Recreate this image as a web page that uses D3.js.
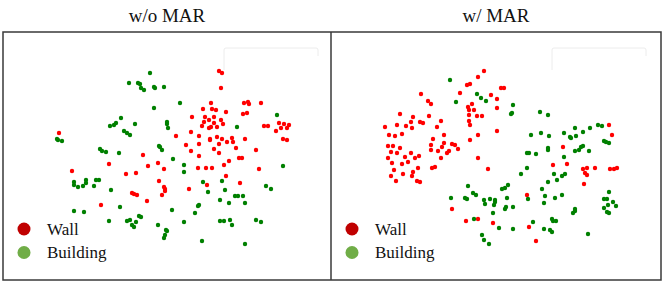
<!DOCTYPE html>
<html>
<head>
<meta charset="utf-8">
<script src="https://cdn.jsdelivr.net/npm/d3@7"></script>
<style>
  body { margin: 0; background: #fff; }
  svg { display: block; }
</style>
</head>
<body>
<div id="chart"></div>
<script>
// t-SNE embedding of Wall vs Building features, with and without MAR

var titles = ["w/o MAR", "w/ MAR"];
var classNames = ["Wall", "Building"];
var pointColors = ["#ff0000", "#008000"];
var legendColors = ["#c00000", "#70ad47"];

// embedding coordinates (arbitrary units), one list per panel and class
var noMarWall = [[56,101],[140,123],[106,132],[155,131],[145,134],[161,137],[69,139],
  [216,39],[219,41],[218,56],[208,71],[200,77],[209,77],[213,78],[223,80],[241,71],[245,70],[246,72],[258,71],
  [240,82],[244,81],[189,85],[202,85],[211,85],[206,88],[218,88],[201,90],[211,91],[220,92],[199,94],[208,95],
  [206,96],[214,95],[276,91],[281,92],[286,93],[261,94],[265,94],[278,96],[284,96],[273,99],[188,100],[173,104],
  [196,104],[214,105],[207,107],[207,108],[219,107],[229,106],[242,107],[224,110],[230,110],[280,107],[284,108],
  [183,113],[196,112],[216,112],[233,116],[211,117],[188,119],[216,121],[253,118],[196,124],[236,126],[239,126],
  [226,129],[221,133],[195,136],[203,136],[209,136],[256,137],
  [123,142],[133,141],[156,149],[161,155],[162,157],[162,159],[129,161],[131,162],[134,163],[159,163],[144,169],[98,173],
  [223,144],[204,153],[237,151],[186,157]];

var noMarBuilding = [[147,41],[126,51],[135,51],[137,52],[138,56],[141,58],[151,55],[152,56],[161,55],[151,76],
  [118,86],[113,91],[111,93],[107,94],[132,92],[164,90],[164,92],[165,96],[121,99],[124,101],[127,103],[54,107],
  [55,108],[59,109],[97,117],[99,119],[103,120],[116,121],[156,114],[157,115],[159,118],
  [177,71],[274,83],[234,95],[170,127],[181,133],[280,134],
  [71,150],[71,153],[75,155],[80,154],[83,148],[83,151],[93,148],[96,148],[91,154],[108,158],[71,179],[81,180],
  [117,175],[106,189],[124,189],[127,188],[133,190],[136,184],[138,185],[129,193],[131,195],[155,193],[163,198],
  [164,199],[162,203],[161,206],
  [181,140],[200,150],[219,149],[205,160],[222,158],[217,168],[232,164],[235,164],[240,164],[226,171],[242,171],
  [263,154],[268,157],[196,173],[195,174],[169,178],[192,181],[181,190],[217,189],[221,189],[227,188],[229,193],
  [253,188],[258,190],[199,209],[242,212]];

var marWall = [[153,39],[147,45],[136,53],[139,52],[129,61],[160,63],[166,67],[90,62],[97,69],[100,72],[141,72],
  [137,75],[138,78],[143,78],[166,76],[69,82],[82,85],[98,84],[138,83],[146,84],[151,84],[80,90],[89,90],[92,91],
  [110,89],[138,89],[54,95],[66,93],[75,94],[81,96],[106,95],[139,93],[166,99],[58,103],[64,104],[71,102],[113,103],
  [147,103],[102,107],[139,108],[113,111],[57,114],[62,114],[69,116],[100,113],[121,112],[124,113],[111,115],[127,117],
  [60,120],[66,121],[80,121],[100,118],[107,119],[118,119],[116,121],[88,124],[84,126],[74,125],[57,126],[110,126],
  [147,126],[61,131],[71,132],[77,130],[101,136],[104,135],[87,136],[157,137],
  [170,56],[173,56],[278,93],[281,103],[232,115],[236,132],[222,133],[256,136],[252,137],[264,136],[279,137],[283,137],[286,136],
  [63,138],[60,144],[72,142],[82,140],[81,144],[65,149],[86,149],[89,150],[121,177],[135,189],[147,187],[162,191],
  [254,141],[256,143],[253,152],[196,163],[198,195],[205,209]];

var marBuilding = [[119,48],[146,62],[150,66],[155,69],[125,70],
  [182,73],[181,81],[180,82],[209,80],[217,83],[200,103],[210,101],[218,104],[233,101],[239,105],[240,106],[244,96],
  [245,104],[252,100],[259,96],[267,93],[271,94],[273,109],[275,110],[278,111],[217,116],[217,118],[196,121],[198,121],
  [205,122],[233,125],[258,119],[244,119],[248,118],[250,115],[252,114],[196,136],
  [137,154],[142,161],[145,163],[120,166],[134,166],[136,167],[153,168],[154,172],[159,167],[164,168],[164,170],
  [163,173],[162,181],[143,187],[168,196],[151,203],[153,208],[158,212],
  [190,142],[223,142],[231,144],[234,142],[226,148],[217,150],[177,153],[174,156],[171,157],[211,157],[214,164],
  [197,167],[176,166],[224,166],[231,163],[213,171],[175,175],[174,177],[182,175],[278,160],[273,167],[276,167],
  [282,170],[277,173],[285,174],[273,176],[276,180],[278,181],[244,177],[244,179],[242,181],[202,190],[221,187],
  [222,189],[225,189],[182,197],[213,197],[219,198],[221,200],[257,202]];

var panels = [[noMarWall, noMarBuilding], [marWall, marBuilding]];

var W = 664, H = 282;
var frameTop = 32, frameBottom = 280, frameLeft = 3, frameMid = 331, frameRight = 661;

var svg = d3.select("#chart").append("svg")
    .attr("width", W)
    .attr("height", H);

var lefts = [frameLeft, frameMid];
var widths = [frameMid - frameLeft, frameRight - frameMid];

panels.forEach(function(sets, p){
    var x = d3.scaleLinear().domain([0, 328]).range([lefts[p], lefts[p] + 328]);
    var y = d3.scaleLinear().domain([0, 248]).range([frameTop, frameTop + 248]);

    var g = svg.append("g");

    // title
    svg.append("text")
        .attr("x", lefts[p] + widths[p] / 2)
        .attr("y", 22)
        .attr("text-anchor", "middle")
        .attr("font-family", "Liberation Serif, Times New Roman, serif")
        .attr("font-size", "19px")
        .attr("fill", "#111")
        .text(titles[p]);

    // faint frame left over in the top right corner
    var fx = lefts[p] + 221;
    g.append("path")
        .attr("d", "M" + fx + ",70 V50 q0,-2 2,-2 H" + (fx + 92) + " q2,0 2,2 V56")
        .attr("fill", "none")
        .attr("stroke", "#ececec")
        .attr("stroke-width", 1);

    sets.forEach(function(pts, c){
        g.selectAll("circle.c" + c)
            .data(pts)
            .enter()
            .append("circle")
            .attr("class", "c" + c)
            .attr("cx", function(d){ return x(d[0]); })
            .attr("cy", function(d){ return y(d[1]); })
            .attr("r", 2.2)
            .attr("fill", pointColors[c]);
    });

    // legend
    var legend = g.append("g")
        .attr("transform", "translate(" + (lefts[p] + 21) + ",229)");

    legend.selectAll("circle")
        .data(classNames)
        .enter()
        .append("circle")
        .attr("cx", 0)
        .attr("cy", function(d, i){ return i * 23.5; })
        .attr("r", 6.5)
        .attr("fill", function(d, i){ return legendColors[i]; });

    legend.selectAll("text")
        .data(classNames)
        .enter()
        .append("text")
        .attr("x", 23)
        .attr("y", function(d, i){ return i * 23.5 + 5.5; })
        .attr("font-family", "Liberation Serif, Times New Roman, serif")
        .attr("font-size", "17px")
        .attr("fill", "#111")
        .text(function(d){ return d; });
});

// outer frame and divider
svg.append("rect")
    .attr("x", frameLeft)
    .attr("y", frameTop)
    .attr("width", frameRight - frameLeft)
    .attr("height", frameBottom - frameTop)
    .attr("fill", "none")
    .attr("stroke", "#3a3a3a")
    .attr("stroke-width", 1.5);

svg.append("line")
    .attr("x1", frameMid).attr("x2", frameMid)
    .attr("y1", frameTop).attr("y2", frameBottom)
    .attr("stroke", "#3a3a3a")
    .attr("stroke-width", 1.5);
</script>
</body>
</html>
